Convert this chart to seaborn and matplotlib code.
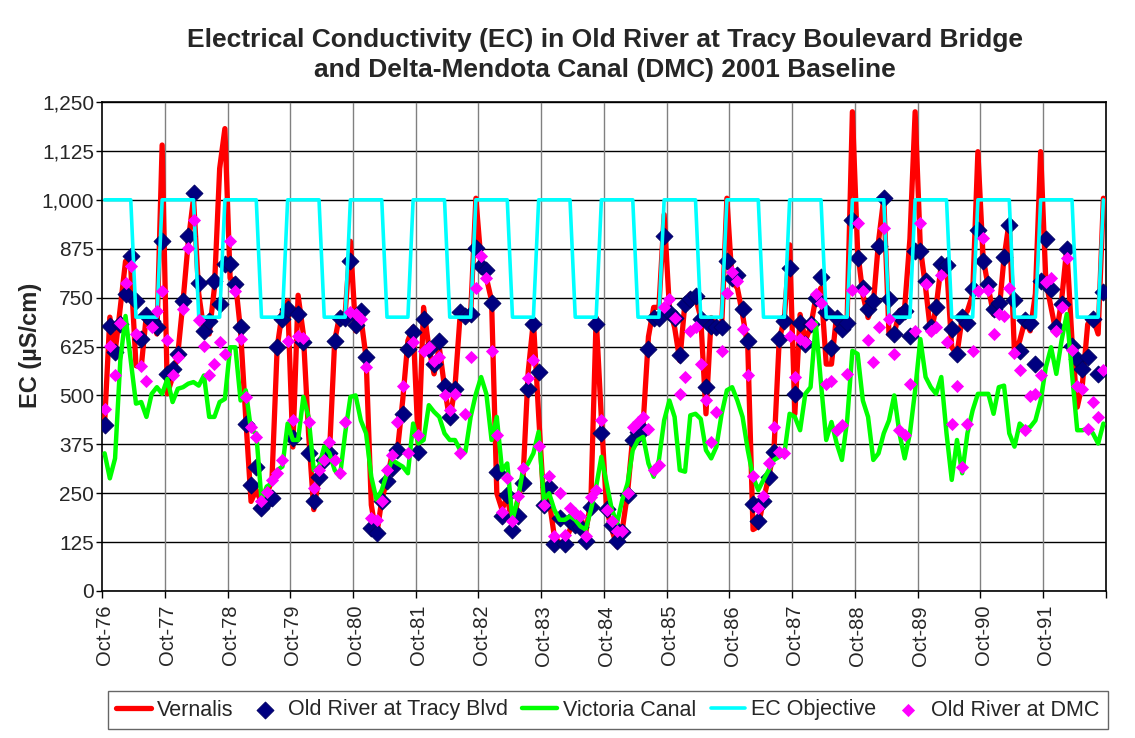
import numpy as np
import pandas as pd
import matplotlib
matplotlib.use("Agg")
import matplotlib.pyplot as plt
import seaborn as sns

# monthly EC values (uS/cm), Oct-76 .. Sep-92, one row per water year
vernalis = [
    430, 700, 610, 725, 843, 826, 576, 572, 708, 699, 657, 1140,
    504, 547, 606, 741, 894, 1004, 760, 665, 657, 775, 1080, 1182,
    800, 792, 665, 440, 229, 258, 225, 246, 284, 623, 716, 742,
    368, 756, 657, 403, 208, 292, 335, 352, 640, 708, 708, 894,
    665, 700, 597, 220, 140, 233, 284, 352, 360, 487, 640, 674,
    369, 725, 623, 555, 623, 521, 436, 521, 708, 708, 708, 1004,
    840, 801, 742, 250, 208, 242, 165, 233, 284, 560, 690, 450,
    225, 233, 140, 123, 123, 157, 199, 191, 148, 233, 699, 440,
    208, 157, 114, 157, 250, 394, 411, 430, 650, 725, 725, 962,
    725, 674, 589, 741, 758, 750, 699, 453, 699, 674, 674, 1004,
    790, 775, 707, 623, 157, 165, 233, 292, 360, 640, 699, 885,
    453, 707, 640, 674, 750, 775, 580, 580, 707, 674, 699, 1225,
    870, 758, 699, 733, 894, 1004, 657, 657, 716, 725, 900, 1225,
    877, 775, 657, 725, 835, 835, 623, 606, 699, 716, 758, 1123,
    852, 775, 707, 707, 852, 945, 606, 640, 691, 665, 760, 1123,
    792, 725, 657, 742, 877, 640, 470, 530, 682, 699, 657, 1004,
]

tracy = [
    424, 678, 610, 682, 758, 856, 742, 644, 705, 690, 674, 894,
    555, 568, 606, 742, 907, 1017, 788, 665, 690, 792, 733, 835,
    835, 786, 674, 428, 271, 318, 212, 229, 237, 625, 695, 720,
    390, 708, 636, 352, 229, 292, 335, 352, 640, 699, 699, 843,
    680, 716, 597, 161, 148, 229, 280, 314, 360, 453, 619, 661,
    356, 695, 619, 581, 638, 523, 445, 517, 712, 703, 708, 877,
    830, 820, 737, 305, 191, 246, 157, 191, 275, 517, 682, 559,
    220, 267, 119, 186, 119, 178, 169, 164, 127, 214, 682, 403,
    210, 169, 127, 150, 246, 386, 407, 411, 619, 699, 699, 907,
    712, 699, 602, 733, 746, 754, 695, 521, 678, 674, 674, 843,
    800, 809, 720, 640, 223, 178, 229, 292, 356, 644, 690, 826,
    504, 684, 631, 682, 750, 803, 712, 621, 699, 669, 686, 949,
    852, 775, 720, 742, 881, 1004, 746, 657, 703, 716, 653, 870,
    869, 792, 674, 726, 835, 833, 669, 606, 701, 684, 771, 924,
    843, 784, 720, 737, 853, 936, 744, 614, 692, 686, 581, 792,
    901, 771, 674, 733, 873, 627, 593, 568, 597, 695, 555, 765,
]

victoria = [
    352, 288, 339, 589, 703, 589, 479, 483, 445, 504, 521, 504,
    542, 483, 517, 521, 530, 534, 525, 551, 445, 445, 483, 491,
    623, 623, 487, 513, 411, 403, 233, 267, 275, 309, 318, 428,
    386, 386, 496, 445, 309, 318, 369, 352, 309, 292, 403, 496,
    500, 436, 403, 292, 233, 258, 301, 335, 326, 318, 301, 428,
    377, 386, 475, 458, 445, 403, 386, 386, 360, 356, 445, 504,
    547, 504, 386, 445, 309, 326, 182, 233, 309, 326, 352, 407,
    233, 250, 208, 182, 182, 191, 182, 165, 157, 208, 267, 343,
    275, 208, 174, 233, 275, 360, 386, 394, 326, 292, 335, 436,
    487, 445, 309, 305, 449, 453, 440, 360, 339, 369, 453, 513,
    521, 487, 445, 360, 292, 258, 284, 309, 335, 343, 352, 453,
    445, 411, 504, 521, 686, 530, 386, 432, 377, 335, 436, 614,
    606, 487, 445, 335, 352, 403, 436, 500, 403, 339, 403, 513,
    644, 547, 521, 504, 547, 403, 284, 386, 301, 403, 462, 504,
    504, 504, 453, 521, 525, 403, 369, 428, 415, 419, 436, 487,
    572, 623, 555, 640, 708, 555, 411, 411, 415, 403, 377, 428,
]

dmc = [
    466, 627, 551, 686, 788, 830, 657, 576, 538, 674, 716, 767,
    642, 551, 597, 720, 877, 949, 692, 627, 551, 580, 636, 606,
    894, 767, 644, 496, 420, 394, 229, 254, 284, 301, 335, 640,
    436, 653, 648, 432, 263, 309, 335, 381, 335, 301, 432, 712,
    707, 695, 572, 186, 182, 229, 309, 347, 432, 523, 352, 636,
    398, 614, 623, 589, 597, 500, 462, 504, 352, 453, 597, 775,
    856, 801, 614, 398, 203, 288, 178, 242, 314, 545, 590, 370,
    220, 294, 140, 250, 144, 212, 199, 191, 140, 240, 258, 438,
    208, 178, 153, 153, 250, 420, 432, 445, 415, 309, 322, 725,
    746, 699, 504, 547, 665, 675, 580, 487, 381, 458, 614, 763,
    815, 792, 669, 553, 294, 212, 242, 326, 419, 356, 352, 653,
    547, 644, 636, 682, 760, 737, 530, 538, 411, 424, 555, 770,
    941, 767, 642, 585, 674, 928, 695, 606, 411, 398, 528, 665,
    941, 784, 665, 674, 808, 636, 428, 525, 318, 428, 614, 767,
    903, 769, 657, 708, 703, 775, 608, 564, 411, 498, 504, 551,
    790, 800, 665, 725, 852, 616, 525, 517, 415, 483, 445, 564,
]

# EC objective: 1000 Sep-Mar, 700 Apr-Aug (same every year)
objective_year = [1000, 1000, 1000, 1000, 1000, 1000, 700, 700, 700, 700, 700, 1000]
n_years = 16
objective = objective_year * n_years

year_labels = ["Oct-76", "Oct-77", "Oct-78", "Oct-79", "Oct-80", "Oct-81", "Oct-82", "Oct-83",
               "Oct-84", "Oct-85", "Oct-86", "Oct-87", "Oct-88", "Oct-89", "Oct-90", "Oct-91"]

n = len(vernalis)
df = pd.DataFrame({
    "month": np.arange(n) + 0.5,
    "Vernalis": vernalis,
    "Old River at Tracy Blvd": tracy,
    "Victoria Canal": victoria,
    "EC Objective": objective,
    "Old River at DMC": dmc,
})

sns.set_style("white")
plt.rcParams["font.family"] = ["Liberation Sans", "DejaVu Sans"]

fig = plt.figure(figsize=(11.35, 7.38), dpi=100)
ax = fig.add_axes([102 / 1135, 1 - 591 / 738, (1106 - 102) / 1135, (591 - 102) / 738])

sns.lineplot(data=df, x="month", y="Vernalis", color="#FF0000", linewidth=3.8, ax=ax, zorder=3,
             label="Vernalis")
sns.scatterplot(data=df, x="month", y="Old River at Tracy Blvd", marker="D", s=75, color="#000080",
                edgecolor="#000060", linewidth=0.6, ax=ax, zorder=4, label="Old River at Tracy Blvd")
sns.lineplot(data=df, x="month", y="Victoria Canal", color="#00FF00", linewidth=3.2, ax=ax, zorder=5,
             label="Victoria Canal")
sns.lineplot(data=df, x="month", y="EC Objective", color="#00FFFF", linewidth=2.6, ax=ax, zorder=6,
             label="EC Objective")
sns.scatterplot(data=df, x="month", y="Old River at DMC", marker="D", s=45, color="#FF00FF",
                edgecolor="#FF00FF", linewidth=0, ax=ax, zorder=7, label="Old River at DMC")

ax.set_xlim(0, n)
ax.set_ylim(0, 1250)
ax.set_yticks(np.arange(0, 1251, 125))
ax.set_yticklabels([f"{v:,}" for v in range(0, 1251, 125)])
ax.yaxis.grid(True, color="black", linewidth=1)
ax.set_axisbelow(True)

# year boundaries get the tick marks and grey gridlines, labels sit on the October month
bounds = np.arange(0, n + 1, 12)
ax.set_xticks(bounds)
ax.set_xticklabels([""] * len(bounds))
for b in bounds[1:-1]:
    ax.axvline(b, color="#808080", linewidth=1, zorder=1)
ax.set_xticks(bounds[:-1] + 0.5, minor=True)
ax.set_xticklabels(year_labels, minor=True, rotation=90, fontsize=14.5)
ax.tick_params(axis="x", which="minor", length=0, pad=10)
ax.tick_params(axis="x", which="major", direction="out", length=5, width=1, color="black", bottom=True)
ax.tick_params(axis="y", direction="out", length=4, width=1, color="black", left=True, labelsize=15, pad=1.5)

for sp in ax.spines.values():
    sp.set_color("black")
    sp.set_linewidth(1.2)

ax.set_xlabel("")
ax.set_ylabel("")

handles, labels = ax.get_legend_handles_labels()
if ax.get_legend() is not None:
    ax.get_legend().remove()

fig.text(30 / 1135, 1 - 345 / 738, "EC (µS/cm)", rotation=90, ha="center", va="center",
         fontsize=17, fontweight="bold")
fig.text(605 / 1135, 1 - 55 / 738,
         "Electrical Conductivity (EC) in Old River at Tracy Boulevard Bridge\nand Delta-Mendota Canal (DMC) 2001 Baseline",
         ha="center", va="center", fontsize=19, fontweight="bold", linespacing=1.3)

order = ["Vernalis", "Old River at Tracy Blvd", "Victoria Canal", "EC Objective", "Old River at DMC"]
hmap = dict(zip(labels, handles))
leg = fig.legend([hmap[k] for k in order], order, ncol=5, loc="center",
                 bbox_to_anchor=(608 / 1135, 1 - 710 / 738), fontsize=15.5, frameon=True,
                 fancybox=False, edgecolor="#404040", handlelength=1.6, handletextpad=0.3,
                 columnspacing=0.65, borderpad=0.4)
leg.get_frame().set_linewidth(1)

fig.savefig("out.png", dpi=100)
